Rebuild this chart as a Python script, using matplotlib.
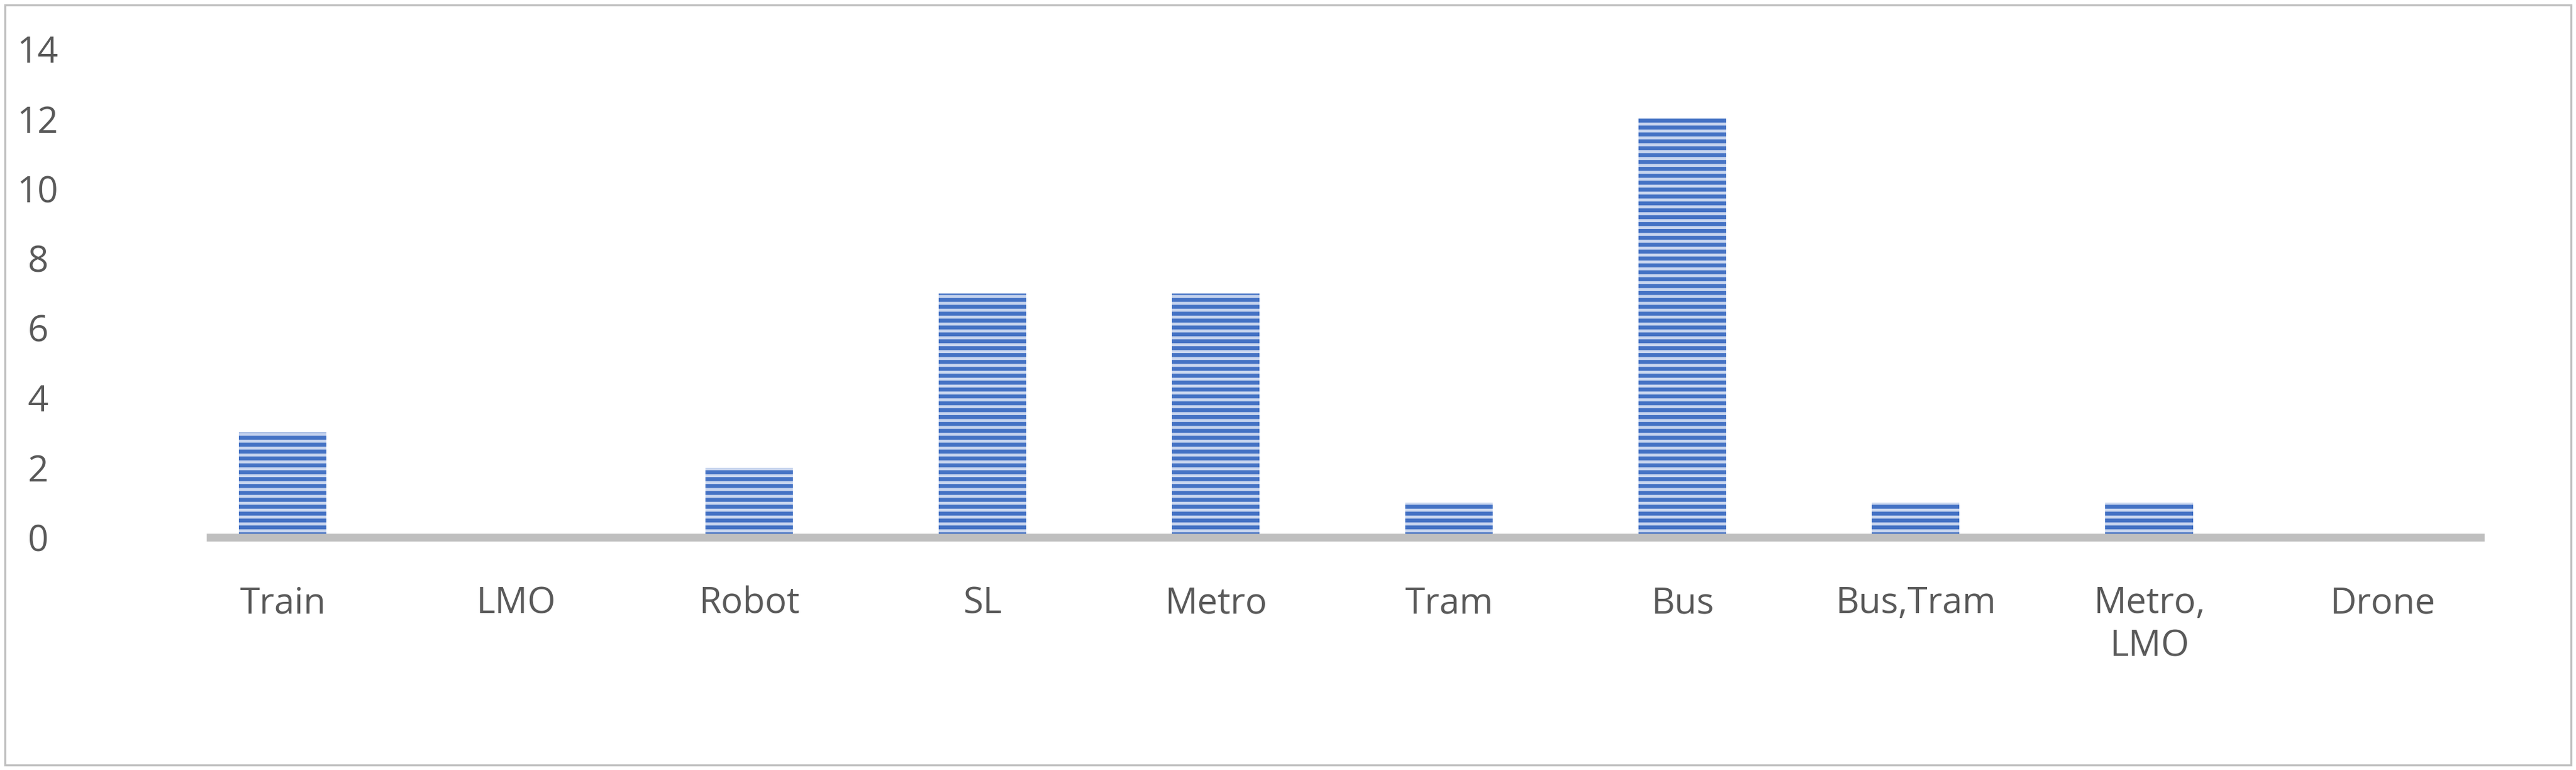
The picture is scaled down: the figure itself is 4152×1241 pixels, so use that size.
import matplotlib
matplotlib.use("Agg")
import matplotlib.pyplot as plt
from matplotlib.patches import Rectangle

categories = ["Train", "LMO", "Robot", "SL", "Metro", "Tram", "Bus", "Bus,Tram", "Metro,\nLMO", "Drone"]
values = [3, 0, 2, 7, 7, 1, 12, 1, 1, 0]
yticks = [0, 2, 4, 6, 8, 10, 12, 14]

plt.rcParams['font.family'] = ['Open Sans', 'DejaVu Sans']
plt.rcParams['hatch.linewidth'] = 2.3
plt.rcParams['hatch.color'] = '#4472c4'

fig = plt.figure(figsize=(20.76, 6.205), dpi=200)
ax = fig.add_axes([339/4152, 1-866/1241, (3998-339)/4152, (866-79)/1241])
ax.bar(range(len(categories)), values, width=0.375, color='#c9d6ef', hatch='---',
       edgecolor='#4472c4', linewidth=0)
ax.set_xlim(-0.31, 9.42)
ax.set_ylim(0, 14)
ax.set_yticks(yticks)
ax.set_xticks(range(len(categories)))
ax.set_xticklabels(categories, linespacing=1.25)
for s in ['top', 'right', 'left']:
    ax.spines[s].set_visible(False)
ax.spines['bottom'].set_color('#bfbfbf')
ax.spines['bottom'].set_linewidth(4.5)
ax.tick_params(length=0, labelsize=21, labelcolor='#595959')
ax.tick_params(axis='x', pad=28)
ax.tick_params(axis='y', pad=100)
for t in ax.get_yticklabels():
    t.set_horizontalalignment('center')
fig.patches.append(Rectangle((8/4152, 8/1241), 1-16/4152, 1-16/1241, transform=fig.transFigure,
                             fill=False, edgecolor='#bfbfbf', linewidth=1.2))
fig.savefig("out.png", dpi=200)
